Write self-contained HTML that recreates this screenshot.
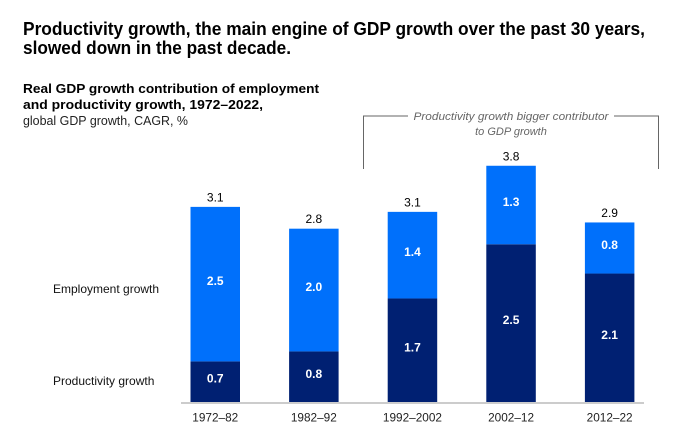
<!DOCTYPE html>
<html lang="en">
<head>
<meta charset="utf-8">
<title>Productivity growth chart</title>
<style>
html,body{margin:0;padding:0;background:#fff}
#chart-root{position:relative;width:682px;height:443px;overflow:hidden;background:#fff;font-family:"Liberation Sans",sans-serif;color:#000}
svg{position:absolute;left:0;top:0}
text{font-family:"Liberation Sans",sans-serif}
</style>
</head>
<body>
<div id="chart-root">
<svg id="chart" width="682" height="443" viewBox="0 0 682 443">
  <text x="23" y="35" font-size="18" font-weight="700" fill="#000" textLength="622" lengthAdjust="spacingAndGlyphs">Productivity growth, the main engine of GDP growth over the past 30 years,</text>
  <text x="23" y="54" font-size="18" font-weight="700" fill="#000" textLength="268" lengthAdjust="spacingAndGlyphs">slowed down in the past decade.</text>
  <text x="23" y="93" font-size="13" font-weight="700" fill="#000" textLength="296" lengthAdjust="spacingAndGlyphs">Real GDP growth contribution of employment</text>
  <text x="23" y="109" font-size="13" font-weight="700" fill="#000" textLength="240" lengthAdjust="spacingAndGlyphs">and productivity growth, 1972–2022,</text>
  <text x="23" y="125" font-size="13" fill="#222" textLength="165" lengthAdjust="spacingAndGlyphs">global GDP growth, CAGR, %</text>

  <path d="M363.5 169V116H408M614 116H658.5V169" fill="none" stroke="#666" stroke-width="1"/>
  <text x="511" y="120" font-size="11" font-style="italic" fill="#666" text-anchor="middle" textLength="195" lengthAdjust="spacingAndGlyphs">Productivity growth bigger contributor</text>
  <text x="511" y="135" font-size="11" font-style="italic" fill="#666" text-anchor="middle">to GDP growth</text>

  <text x="53" y="293" font-size="12" fill="#111">Employment growth</text>
  <text x="53" y="385" font-size="12" fill="#111">Productivity growth</text>

  <g id="bars"></g>
  <rect x="181" y="402" width="463" height="2" fill="#cccccc"/>
  <g id="labels"></g>
</svg>
</div>
<script>
const categories = ["1972–82", "1982–92", "1992–2002", "2002–12", "2012–22"];
const productivity = [0.66, 0.82, 1.67, 2.54, 2.07];
const employment = [2.48, 1.97, 1.39, 1.26, 0.82];

const NS = "http://www.w3.org/2000/svg";
const baseY = 402.5;
const pxPerUnit = 62.3;
const firstBand = 190.5;
const bandStep = 98.6;
const barWidth = 49.5;
const yScale = function (v) { return baseY - v * pxPerUnit; };
const xScale = function (i) { return firstBand + i * bandStep; };
const barsGroup = document.getElementById("bars");
const labelsGroup = document.getElementById("labels");

function addRect(i, from, to, fill) {
  const r = document.createElementNS(NS, "rect");
  r.setAttribute("x", xScale(i));
  r.setAttribute("y", yScale(to));
  r.setAttribute("width", barWidth);
  r.setAttribute("height", yScale(from) - yScale(to));
  r.setAttribute("fill", fill);
  barsGroup.appendChild(r);
  return r;
}
function addText(x, y, str, fill, weight, size) {
  const t = document.createElementNS(NS, "text");
  t.setAttribute("x", x);
  t.setAttribute("y", y);
  t.setAttribute("font-size", size);
  t.setAttribute("text-anchor", "middle");
  t.setAttribute("fill", fill);
  if (weight) t.setAttribute("font-weight", weight);
  t.textContent = str;
  labelsGroup.appendChild(t);
  return t;
}
categories.forEach(function (cat, i) {
  const p = productivity[i];
  const e = employment[i];
  const total = p + e;
  const cx = xScale(i) + barWidth / 2;

  const prodBar = addRect(i, 0, p, "#002072");
  
  

  const empBar = addRect(i, p, total, "#0070fb");
  
  

  const prodLabel = addText(cx, (yScale(0) + yScale(p)) / 2 + 0.8, p.toFixed(1), "#fff", "700", "12");
  
  

  const empLabel = addText(cx, (yScale(p) + yScale(total)) / 2 + 0.8, e.toFixed(1), "#fff", "700", "12");
  
  

  const totalLabel = addText(cx, yScale(total) - 5.5, total.toFixed(1), "#000", "", "12");
  
  

  const tick = addText(cx, 421.5, cat, "#222", "", "11.8");
  
  
});
</script>
</body>
</html>
